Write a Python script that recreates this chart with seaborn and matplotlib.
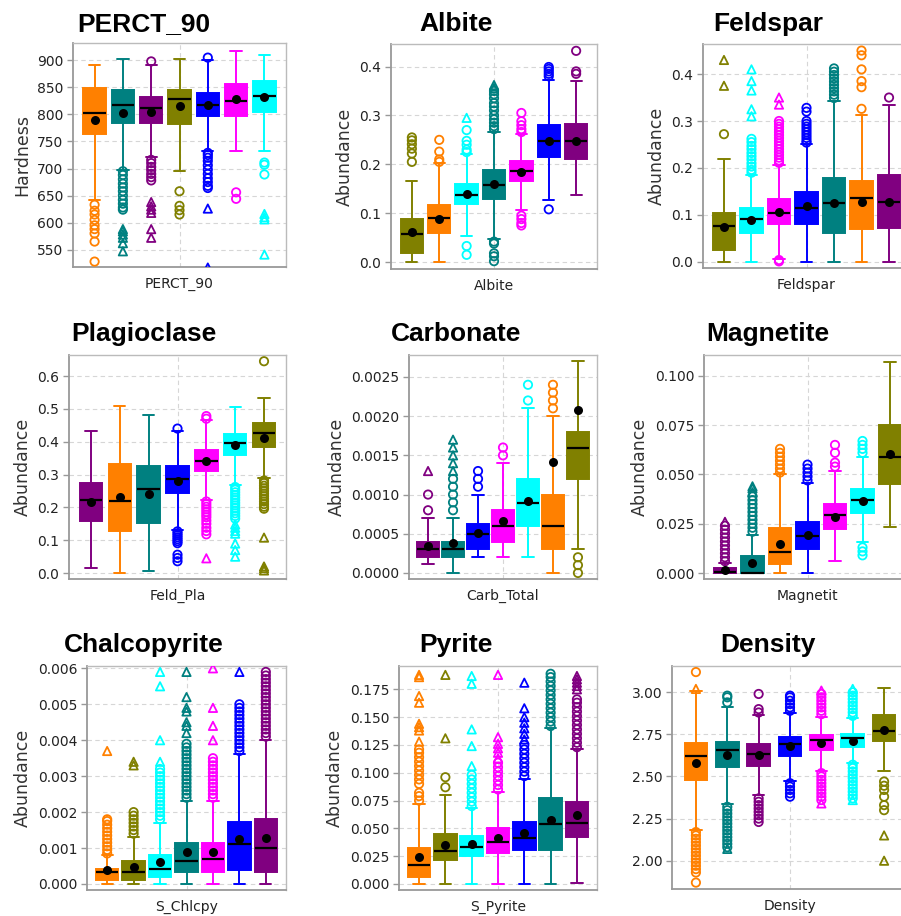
import numpy as np
import pandas as pd
import matplotlib
matplotlib.use("Agg")
import matplotlib.pyplot as plt
import seaborn as sns

# ---------------- data ----------------
COLORS = {"G1": "#FF8000", "G2": "#008080", "G3": "#800080", "G4": "#808000",
          "G5": "#0000FF", "G6": "#FF00FF", "G7": "#00FFFF"}
# G1 orange, G2 teal, G3 purple, G4 olive, G5 blue, G6 magenta, G7 cyan

# Panel 1 : PERCT_90
P1_ORDER = ["G1", "G2", "G3", "G4", "G5", "G6", "G7"]
P1_LO = [641, 698, 722, 695, 733, 733, 733]
P1_Q1 = [763, 785, 785, 782, 797, 797, 805]
P1_MED = [802, 817, 811, 828, 817, 825, 834]
P1_Q3 = [848, 845, 832, 845, 840, 857, 862]
P1_HI = [892, 902, 892, 902, 900, 918, 910]
P1_MEAN = [789, 803, 804, 815, 818, 828, 832]
P1_CIRC = [[633, 622, 615, 605, 595, 588, 580, 565, 528],
           [695, 688, 680, 672, 665, 658, 650, 642, 635, 628, 624],
           [898, 716, 710, 703, 697, 690, 684, 678],
           [658, 631, 623, 615],
           [905, 729, 725, 720, 714, 706, 698, 690, 682, 675, 668, 664],
           [656, 644],
           [711, 707, 689]]
P1_TRI = [[], [588, 584, 578, 572, 562, 547], [638, 630, 624, 618, 588, 572],
          [], [626, 517], [], [616, 610, 606, 541]]
P1_YTICKS = [550, 600, 650, 700, 750, 800, 850, 900]

# Panel 2 : Albite
P2_ORDER = ["G4", "G1", "G7", "G2", "G6", "G5", "G3"]
P2_LO = [0.0, 0.0, 0.054, 0.048, 0.107, 0.128, 0.137]
P2_Q1 = [0.019, 0.060, 0.118, 0.130, 0.165, 0.215, 0.210]
P2_MED = [0.058, 0.091, 0.138, 0.157, 0.186, 0.247, 0.247]
P2_Q3 = [0.089, 0.117, 0.160, 0.189, 0.207, 0.280, 0.283]
P2_HI = [0.165, 0.202, 0.221, 0.267, 0.261, 0.373, 0.370]
P2_MEAN = [0.061, 0.089, 0.139, 0.160, 0.185, 0.248, 0.248]
P2_CIRC = [[0.255, 0.249, 0.241, 0.232, 0.222, 0.205],
           [0.250, 0.226, 0.210, 0.205],
           [0.270, 0.248, 0.240, 0.230, 0.225, 0.033, 0.015],
           [0.350, 0.343, 0.335, 0.325, 0.318, 0.310, 0.300, 0.292, 0.285,
            0.278, 0.272, 0.042, 0.038, 0.018, 0.012, 0.002],
           [0.305, 0.288, 0.280, 0.272, 0.266, 0.095, 0.088, 0.080, 0.075],
           [0.399, 0.395, 0.390, 0.385, 0.380, 0.108],
           [0.432, 0.390, 0.385]]
P2_TRI = [[], [], [0.295], [0.362, 0.356], [], [], []]
P2_YTICKS = [0.0, 0.1, 0.2, 0.3, 0.4]

# Panel 3 : Feldspar
P3_ORDER = ["G4", "G7", "G6", "G5", "G2", "G1", "G3"]
P3_LO = [0.0, 0.0, 0.006, 0.0, 0.0, 0.0, 0.0]
P3_Q1 = [0.025, 0.062, 0.080, 0.080, 0.062, 0.071, 0.073]
P3_MED = [0.076, 0.091, 0.104, 0.114, 0.126, 0.135, 0.127]
P3_Q3 = [0.104, 0.114, 0.133, 0.149, 0.178, 0.172, 0.184]
P3_HI = [0.219, 0.184, 0.206, 0.250, 0.342, 0.313, 0.335]
P3_MEAN = [0.074, 0.090, 0.106, 0.118, 0.126, 0.128, 0.127]
P3_CIRC = [[0.272],
           [0.262, 0.255, 0.247, 0.240, 0.232, 0.225, 0.218, 0.210, 0.203, 0.196, 0.190],
           [0.300, 0.294, 0.288, 0.282, 0.276, 0.270, 0.264, 0.258, 0.252, 0.246,
            0.240, 0.234, 0.228, 0.222, 0.216, 0.211, 0.004, 0.001],
           [0.328, 0.320, 0.300, 0.294, 0.288, 0.282, 0.276, 0.270, 0.264, 0.258, 0.254],
           [0.412, 0.405, 0.398, 0.391, 0.384, 0.377, 0.370, 0.363, 0.356, 0.349],
           [0.450, 0.440, 0.410, 0.385, 0.372, 0.326],
           [0.350]]
P3_TRI = [[0.430, 0.375], [0.410, 0.385, 0.365, 0.325, 0.310], [0.350, 0.335],
          [], [], [], []]
P3_YTICKS = [0.0, 0.1, 0.2, 0.3, 0.4]

# Panel 4 : Plagioclase
P4_ORDER = ["G3", "G1", "G2", "G5", "G6", "G7", "G4"]
P4_LO = [0.015, 0.0, 0.005, 0.132, 0.223, 0.268, 0.288]
P4_Q1 = [0.158, 0.127, 0.154, 0.245, 0.312, 0.360, 0.385]
P4_MED = [0.222, 0.220, 0.255, 0.287, 0.342, 0.396, 0.428]
P4_Q3 = [0.275, 0.333, 0.325, 0.325, 0.375, 0.424, 0.457]
P4_HI = [0.433, 0.510, 0.482, 0.432, 0.465, 0.505, 0.532]
P4_MEAN = [0.216, 0.232, 0.240, 0.280, 0.340, 0.390, 0.412]
P4_CIRC = [[], [], [],
           [0.440, 0.127, 0.121, 0.115, 0.109, 0.103, 0.097, 0.091, 0.056, 0.046, 0.036],
           [0.478, 0.470, 0.218, 0.210, 0.202, 0.194, 0.186, 0.178, 0.170, 0.160,
            0.150, 0.138, 0.128, 0.118],
           [0.262, 0.254, 0.246, 0.238, 0.230, 0.222, 0.214, 0.206, 0.198, 0.190,
            0.182, 0.174, 0.166],
           [0.645, 0.282, 0.274, 0.266, 0.258, 0.250, 0.242, 0.234, 0.226, 0.218,
            0.210, 0.202, 0.196]]
P4_TRI = [[], [], [], [], [0.045], [0.148, 0.138, 0.128, 0.120, 0.090, 0.070, 0.050],
          [0.108, 0.020, 0.015, 0.008]]
P4_YTICKS = [0.0, 0.1, 0.2, 0.3, 0.4, 0.5, 0.6]

# Panel 5 : Carbonate
P5_ORDER = ["G3", "G2", "G5", "G6", "G7", "G1", "G4"]
P5_LO = [0.00011, 0.0, 0.0002, 0.0002, 0.0002, 0.0, 0.0003]
P5_Q1 = [0.0002, 0.0002, 0.0003, 0.0004, 0.0006, 0.0003, 0.0012]
P5_MED = [0.0003, 0.0003, 0.0005, 0.0006, 0.00089, 0.0006, 0.0016]
P5_Q3 = [0.0004, 0.0004, 0.00062, 0.0008, 0.0012, 0.0010, 0.0018]
P5_HI = [0.0007, 0.0007, 0.0010, 0.0014, 0.0021, 0.0020, 0.0027]
P5_MEAN = [0.00035, 0.00038, 0.00051, 0.00066, 0.00092, 0.00142, 0.00208]
P5_CIRC = [[0.0008, 0.0010],
           [0.0008, 0.0009, 0.0010, 0.0011, 0.0012],
           [0.0011, 0.0012, 0.0013],
           [0.0015, 0.0016],
           [0.0022, 0.0024],
           [0.0021, 0.0022, 0.0023, 0.0024],
           [0.0002, 0.0001, 0.0]]
P5_TRI = [[0.0013], [0.0013, 0.0014, 0.0015, 0.0016, 0.0017], [], [], [], [], []]
P5_YTICKS = [0.0, 0.0005, 0.0010, 0.0015, 0.0020, 0.0025]

# Panel 6 : Magnetite
P6_ORDER = ["G3", "G2", "G1", "G5", "G6", "G7", "G4"]
P6_LO = [0.0, 0.0, 0.0, 0.0, 0.006, 0.016, 0.0235]
P6_Q1 = [0.0, 0.0, 0.0045, 0.012, 0.0225, 0.0305, 0.045]
P6_MED = [0.0003, 0.0, 0.0105, 0.019, 0.0295, 0.037, 0.059]
P6_Q3 = [0.0025, 0.0085, 0.023, 0.026, 0.035, 0.0425, 0.075]
P6_HI = [0.005, 0.0195, 0.050, 0.0455, 0.052, 0.059, 0.107]
P6_MEAN = [0.0015, 0.005, 0.0148, 0.0195, 0.0285, 0.0365, 0.0605]
P6_CIRC = [[0.006, 0.008, 0.010, 0.012, 0.014, 0.016, 0.018, 0.020, 0.022, 0.024],
           [0.021, 0.023, 0.025, 0.027, 0.029, 0.031, 0.033, 0.035, 0.037, 0.039],
           [0.051, 0.053, 0.055, 0.057, 0.059, 0.061, 0.063],
           [0.047, 0.049, 0.051, 0.053, 0.055],
           [0.054, 0.056, 0.061, 0.065],
           [0.061, 0.063, 0.065, 0.067, 0.013, 0.011, 0.009],
           []]
P6_TRI = [[0.026], [0.041, 0.043, 0.044], [], [], [], [], []]
P6_YTICKS = [0.0, 0.025, 0.050, 0.075, 0.100]

# Panel 7 : Chalcopyrite
P7_ORDER = ["G1", "G4", "G7", "G2", "G6", "G5", "G3"]
P7_LO = [0.0, 0.0, 0.0, 0.0, 0.0, 0.0, 0.0]
P7_Q1 = [0.0001, 0.0001, 0.0002, 0.00032, 0.00032, 0.0004, 0.00032]
P7_MED = [0.00033, 0.00033, 0.00042, 0.00063, 0.0007, 0.00112, 0.0010]
P7_Q3 = [0.00043, 0.00065, 0.0008, 0.00115, 0.00115, 0.00172, 0.0018]
P7_HI = [0.0008, 0.0013, 0.0017, 0.0023, 0.0023, 0.00363, 0.0040]
P7_MEAN = [0.00038, 0.00048, 0.00062, 0.00088, 0.00088, 0.00125, 0.00128]
P7_CIRC = [[0.00085, 0.00095, 0.00105, 0.00115, 0.00125, 0.00135, 0.00145,
            0.00155, 0.00165, 0.00175, 0.0018],
           [0.0014, 0.0015, 0.0016, 0.0017, 0.0018, 0.0019, 0.0020],
           [0.0018, 0.0019, 0.0020, 0.0021, 0.0022, 0.0023, 0.0024, 0.0025,
            0.0026, 0.0027, 0.0028, 0.0029, 0.0030, 0.0031, 0.0032],
           [0.0024, 0.0025, 0.0026, 0.0027, 0.0028, 0.0029, 0.0030, 0.0031,
            0.0032, 0.0033, 0.0034, 0.0035, 0.0036, 0.0037, 0.0038, 0.0039],
           [0.0024, 0.0025, 0.0026, 0.0027, 0.0028, 0.0029, 0.0030, 0.0031,
            0.0032, 0.0033, 0.0034, 0.0035],
           [0.0037, 0.0038, 0.0039, 0.0040, 0.0041, 0.0042, 0.0043, 0.0044,
            0.0045, 0.0046, 0.0047, 0.0048, 0.0049, 0.0050],
           [0.0041, 0.0042, 0.0043, 0.0044, 0.0045, 0.0046, 0.0047, 0.0048,
            0.0049, 0.0050, 0.0051, 0.0052, 0.0053, 0.0054, 0.0055, 0.0056,
            0.0057, 0.0058, 0.0059]]
P7_TRI = [[0.0037], [0.0033, 0.0034], [0.0034, 0.0040, 0.0055, 0.0059],
          [0.0042, 0.0044, 0.0045, 0.0048, 0.0049, 0.0052, 0.0059],
          [0.0040, 0.0044, 0.0049, 0.0060], [0.0059], []]
P7_YTICKS = [0.0, 0.001, 0.002, 0.003, 0.004, 0.005, 0.006]

# Panel 8 : Pyrite
P8_ORDER = ["G1", "G4", "G7", "G6", "G5", "G2", "G3"]
P8_LO = [0.0, 0.0, 0.0, 0.0, 0.0, 0.0, 0.001]
P8_Q1 = [0.006, 0.022, 0.025, 0.028, 0.031, 0.031, 0.042]
P8_MED = [0.017, 0.030, 0.033, 0.038, 0.041, 0.054, 0.055]
P8_Q3 = [0.032, 0.045, 0.043, 0.050, 0.056, 0.077, 0.074]
P8_HI = [0.072, 0.080, 0.068, 0.083, 0.094, 0.140, 0.121]
P8_MEAN = [0.0245, 0.035, 0.036, 0.041, 0.046, 0.0575, 0.062]
P8_CIRC = [[0.075, 0.079, 0.082, 0.090, 0.094, 0.098, 0.102, 0.106, 0.110,
            0.114, 0.118, 0.121],
           [0.087, 0.096],
           [0.070, 0.074, 0.078, 0.082, 0.086, 0.090, 0.094, 0.098],
           [0.085, 0.089, 0.093, 0.097, 0.101, 0.105, 0.109],
           [0.097, 0.101, 0.105, 0.109, 0.113, 0.117, 0.121, 0.125],
           [0.142, 0.146, 0.150, 0.154, 0.158, 0.162, 0.166, 0.170, 0.174,
            0.178, 0.182, 0.186, 0.189],
           [0.123, 0.127, 0.131, 0.135, 0.139, 0.143, 0.147, 0.151, 0.155,
            0.159, 0.163, 0.166]]
P8_TRI = [[0.128, 0.138, 0.141, 0.144, 0.163, 0.169, 0.186, 0.188],
          [0.131, 0.188],
          [0.106, 0.124, 0.139, 0.180, 0.187],
          [0.113, 0.118, 0.122, 0.126, 0.132, 0.188],
          [0.130, 0.135, 0.140, 0.145, 0.150, 0.158, 0.181],
          [],
          [0.175, 0.178, 0.181, 0.184, 0.187]]
P8_YTICKS = [0.0, 0.025, 0.050, 0.075, 0.100, 0.125, 0.150, 0.175]

# Panel 9 : Density
P9_ORDER = ["G1", "G2", "G3", "G5", "G6", "G7", "G4"]
P9_LO = [2.185, 2.335, 2.390, 2.475, 2.535, 2.580, 2.535]
P9_Q1 = [2.480, 2.555, 2.560, 2.620, 2.660, 2.675, 2.710]
P9_MED = [2.623, 2.660, 2.633, 2.690, 2.715, 2.730, 2.770]
P9_Q3 = [2.700, 2.705, 2.690, 2.735, 2.745, 2.755, 2.865]
P9_HI = [3.005, 2.915, 2.865, 2.875, 2.855, 2.845, 3.025]
P9_MEAN = [2.580, 2.625, 2.625, 2.680, 2.700, 2.710, 2.775]
P9_CIRC = [[3.120, 2.170, 2.150, 2.130, 2.110, 2.090, 2.070, 2.050, 2.030,
            2.010, 1.990, 1.970, 1.950, 1.930, 1.870],
           [2.940, 2.970, 2.980, 2.320, 2.300, 2.280, 2.260, 2.240, 2.220,
            2.200, 2.180, 2.160, 2.140, 2.120, 2.100, 2.080],
           [2.880, 2.900, 2.990, 2.370, 2.350, 2.330, 2.310, 2.290, 2.270, 2.250, 2.230],
           [2.890, 2.910, 2.930, 2.950, 2.970, 2.980, 2.460, 2.440, 2.420, 2.400, 2.380],
           [2.870, 2.890, 2.910, 2.930, 2.950, 2.970, 2.990, 2.520, 2.500, 2.480,
            2.460, 2.440, 2.420, 2.400, 2.380, 2.360],
           [2.860, 2.880, 2.900, 2.920, 2.940, 2.960, 2.980, 3.000, 2.570, 2.550,
            2.530, 2.510, 2.490, 2.470, 2.450, 2.430, 2.410, 2.390, 2.370],
           [2.470, 2.445, 2.420, 2.380, 2.330, 2.300]]
P9_TRI = [[3.020], [2.070], [], [], [3.010, 2.340], [3.020, 2.360], [2.150, 2.000]]
P9_YTICKS = [2.00, 2.25, 2.50, 2.75, 3.00]

TITLES = ["PERCT_90", "Albite", "Feldspar", "Plagioclase", "Carbonate",
          "Magnetite", "Chalcopyrite", "Pyrite", "Density"]
XLABELS = ["PERCT_90", "Albite", "Feldspar", "Feld_Pla", "Carb_Total",
           "Magnetit", "S_Chlcpy", "S_Pyrite", "Density"]
YLABELS = ["Hardness"] + ["Abundance"] * 7 + [""]

# ---------------- layout / style ----------------
W, H = 901, 916
# axes rectangles in pixels (left, top, right, bottom)
RECTS = [(73, 43, 286, 267), (391, 44, 597, 269), (703, 44, 910, 268),
         (69, 355, 286, 579), (409, 355, 597, 579), (704, 355, 911, 579),
         (87, 666, 286, 890), (399, 666, 597, 890), (672, 666, 908, 889)]
YLIMS = [(518, 932), (-0.014, 0.446), (-0.013, 0.464), (-0.018, 0.664),
         (-0.000077, 0.00278), (-0.003, 0.1106), (-0.000167, 0.006065),
         (-0.0054, 0.196), (1.832, 3.156)]
YFMTS = ["{:.0f}", "{:.1f}", "{:.1f}", "{:.1f}", "{:.4f}", "{:.3f}", "{:.3f}",
         "{:.3f}", "{:.2f}"]
TITLE_POS = [(144, 31), (456, 31), (768, 31), (144, 341), (456, 341), (768, 341),
             (144, 652), (456, 652), (768, 652)]
XHALF = 0.43
BOX_PX = 22.5

sns.set_style("whitegrid")
plt.rcParams["font.family"] = ["DejaVu Sans"]

fig = plt.figure(figsize=(W / 100, H / 100), dpi=100)
fig.patch.set_facecolor("white")

PANELS = [
    (P1_ORDER, P1_LO, P1_Q1, P1_MED, P1_Q3, P1_HI, P1_MEAN, P1_CIRC, P1_TRI, P1_YTICKS),
    (P2_ORDER, P2_LO, P2_Q1, P2_MED, P2_Q3, P2_HI, P2_MEAN, P2_CIRC, P2_TRI, P2_YTICKS),
    (P3_ORDER, P3_LO, P3_Q1, P3_MED, P3_Q3, P3_HI, P3_MEAN, P3_CIRC, P3_TRI, P3_YTICKS),
    (P4_ORDER, P4_LO, P4_Q1, P4_MED, P4_Q3, P4_HI, P4_MEAN, P4_CIRC, P4_TRI, P4_YTICKS),
    (P5_ORDER, P5_LO, P5_Q1, P5_MED, P5_Q3, P5_HI, P5_MEAN, P5_CIRC, P5_TRI, P5_YTICKS),
    (P6_ORDER, P6_LO, P6_Q1, P6_MED, P6_Q3, P6_HI, P6_MEAN, P6_CIRC, P6_TRI, P6_YTICKS),
    (P7_ORDER, P7_LO, P7_Q1, P7_MED, P7_Q3, P7_HI, P7_MEAN, P7_CIRC, P7_TRI, P7_YTICKS),
    (P8_ORDER, P8_LO, P8_Q1, P8_MED, P8_Q3, P8_HI, P8_MEAN, P8_CIRC, P8_TRI, P8_YTICKS),
    (P9_ORDER, P9_LO, P9_Q1, P9_MED, P9_Q3, P9_HI, P9_MEAN, P9_CIRC, P9_TRI, P9_YTICKS),
]


def hollow_strip(ax, df, order, pal, marker, size):
    if len(df) == 0:
        return
    n0 = len(ax.collections)
    sns.stripplot(data=df, x="var", y="value", hue="group", hue_order=order,
                  palette=pal, dodge=True, jitter=False, marker=marker,
                  size=size, linewidth=1.3, legend=False, ax=ax, zorder=3)
    for coll in ax.collections[n0:]:
        fc = coll.get_facecolors()
        coll.set_edgecolors(fc)
        coll.set_facecolors("none")


for i, (order, lo, q1, med, q3, hi, mean, circ, tri, yticks) in enumerate(PANELS):
    L, T, R, B = RECTS[i]
    ax = fig.add_axes([L / W, 1 - B / H, (R - L) / W, (B - T) / H])
    var = XLABELS[i]
    pal = {g: COLORS[g] for g in order}

    # slot width in px -> gap so that boxes keep a fixed pixel width
    slot_px = (R - L) / (2 * XHALF) * 0.8 / len(order)
    gap = max(0.0, 1 - BOX_PX / slot_px)

    # box table: five summary values per group
    box_df = pd.DataFrame({
        "var": var,
        "group": np.repeat(order, 5),
        "value": np.column_stack([lo, q1, med, q3, hi]).ravel(),
    })
    for g in order:
        sns.boxplot(data=box_df[box_df["group"] == g], x="var", y="value",
                    hue="group", hue_order=order, palette=pal, saturation=1,
                    dodge=True, width=0.8, gap=gap, whis=(0, 100),
                    showfliers=False, linecolor=COLORS[g], linewidth=1.4,
                    medianprops=dict(color="black", linewidth=1.6),
                    legend=False, ax=ax)

    circ_df = pd.DataFrame([(var, g, v) for g, vals in zip(order, circ) for v in vals],
                           columns=["var", "group", "value"])
    tri_df = pd.DataFrame([(var, g, v) for g, vals in zip(order, tri) for v in vals],
                          columns=["var", "group", "value"])
    hollow_strip(ax, circ_df, order, pal, "o", 6.0)
    hollow_strip(ax, tri_df, order, pal, "^", 6.0)

    mean_df = pd.DataFrame({"var": var, "group": order, "value": mean})
    sns.stripplot(data=mean_df, x="var", y="value", hue="group", hue_order=order,
                  palette={g: "black" for g in order}, dodge=True, jitter=False,
                  size=6.5, linewidth=0, legend=False, ax=ax, zorder=4)

    ax.set_xlim(-XHALF, XHALF)
    ax.set_ylim(*YLIMS[i])
    ax.set_yticks(yticks)
    ax.set_yticklabels([YFMTS[i].format(v) for v in yticks])
    ax.set_xticks([0])
    ax.set_xticklabels([""])
    ax.tick_params(axis="x", length=0, pad=0)
    ax.tick_params(axis="y", left=True, length=4, width=1, color="#999999",
                   labelsize=10, labelcolor="#222222", pad=3)
    ax.grid(True, linestyle=(0, (4, 3)), color="#d6d6d6", linewidth=0.8)
    ax.xaxis.grid(True)
    ax.set_axisbelow(True)
    ax.set_facecolor("white")
    for side in ["left", "bottom"]:
        ax.spines[side].set_color("#999999")
        ax.spines[side].set_linewidth(1.3)
    for side in ["top", "right"]:
        ax.spines[side].set_color("#bbbbbb")
        ax.spines[side].set_linewidth(1.0)
    ax.set_xlabel(XLABELS[i], fontsize=10, color="#222222", labelpad=7)
    ax.set_ylabel(YLABELS[i], fontsize=12.5, color="#333333", labelpad=4)

    tx, ty = TITLE_POS[i]
    fig.text(tx / W, 1 - ty / H, TITLES[i], ha="center", va="baseline",
             fontsize=19, fontweight="bold", family=["Liberation Sans", "DejaVu Sans"],
             color="black")

fig.savefig("out.png", dpi=100, facecolor="white")
